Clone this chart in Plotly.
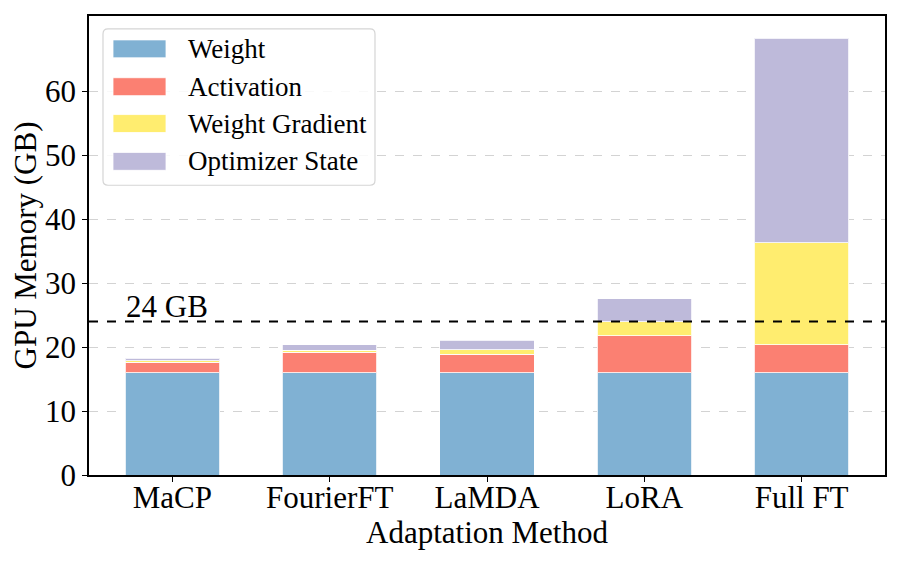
import plotly.graph_objects as go

methods = ["MaCP", "FourierFT", "LaMDA", "LoRA", "Full FT"]
weight = [16.0, 16.0, 16.0, 16.0, 16.0]
activation = [1.65, 3.2, 2.9, 5.8, 4.35]
weight_grad = [0.2, 0.35, 0.7, 2.2, 16.0]
optimizer = [0.4, 0.8, 1.5, 3.6, 32.0]
series_names = ["Weight", "Activation", "Weight Gradient", "Optimizer State"]
colors = ["#80b1d3", "#fb8072", "#ffed6f", "#bebada"]
threshold = 24
threshold_label = "24 GB"
yticks = [0, 10, 20, 30, 40, 50, 60]

FONT = "Liberation Serif"
x = list(range(len(methods)))
fig = go.Figure()
for name, vals, c in zip(series_names, [weight, activation, weight_grad, optimizer], colors):
    fig.add_trace(go.Bar(x=x, y=vals, name=name, width=0.6,
                         marker=dict(color=c, line=dict(color="rgba(255,255,255,0.8)", width=1)),
                         showlegend=False))

fig.add_shape(type="line", xref="paper", x0=0, x1=1, yref="y", y0=threshold, y1=threshold,
              line=dict(color="black", width=2, dash="dash"))
fig.add_annotation(x=-0.31, y=threshold, xref="x", yref="y", text=threshold_label,
                   showarrow=False, xanchor="left", yanchor="bottom", yshift=-4,
                   font=dict(family=FONT, size=31, color="black"))

# manual legend, positioned relative to the plot area (screen pixels of target)
PL, PR, PT, PB = 87, 883, 14, 475
def px(xp): return (xp - PL) / (PR - PL)
def py(yp): return 1 - (yp - PT) / (PB - PT)
bx0, bx1, by0, by1 = px(101), px(373), py(184), py(27)
rx = 5 / (PR - PL); ry = 5 / (PB - PT)
path = (f"M {bx0+rx},{by1} L {bx1-rx},{by1} Q {bx1},{by1} {bx1},{by1-ry} "
        f"L {bx1},{by0+ry} Q {bx1},{by0} {bx1-rx},{by0} L {bx0+rx},{by0} "
        f"Q {bx0},{by0} {bx0},{by0+ry} L {bx0},{by1-ry} Q {bx0},{by1} {bx0+rx},{by1} Z")
fig.add_shape(type="path", xref="paper", yref="paper", path=path,
              line=dict(color="#d5d5d5", width=1.2), fillcolor="rgba(255,255,255,0.85)", layer="above")
rows = [47, 85, 122, 160]
for name, c, yc in zip(series_names, colors, rows):
    fig.add_shape(type="rect", xref="paper", yref="paper", x0=px(111), x1=px(164),
                  y0=py(yc + 9), y1=py(yc - 9), fillcolor=c,
                  line=dict(color="rgba(255,255,255,0.8)", width=1), layer="above")
    fig.add_annotation(xref="paper", yref="paper", x=px(184), y=py(yc), text=name,
                       showarrow=False, xanchor="left", yanchor="middle",
                       font=dict(family=FONT, size=27, color="black"))

axis_common = dict(showline=True, linecolor="black", linewidth=1.5, mirror=True,
                   ticks="outside", ticklen=5, tickwidth=1.2, tickcolor="black",
                   tickfont=dict(family=FONT, size=31, color="black"))
fig.update_layout(
    width=897, height=561, margin=dict(l=81, r=20, t=6, b=94),
    plot_bgcolor="white", paper_bgcolor="white", barmode="stack",
    xaxis=dict(range=[-0.53, 4.53], tickmode="array", tickvals=x, ticktext=methods,
               showgrid=False, zeroline=False, ticklabelstandoff=-11,
               title=dict(text="Adaptation Method", font=dict(family=FONT, size=31, color="black"), standoff=0),
               **axis_common),
    yaxis=dict(range=[0, 71.8], tickmode="array", tickvals=yticks, showgrid=True,
               gridcolor="#d3d3d3", griddash="dash", gridwidth=1, zeroline=False,
               title=dict(text="GPU Memory (GB)", font=dict(family=FONT, size=31, color="black"), standoff=4),
               **axis_common),
)
fig.write_html("out.html")
